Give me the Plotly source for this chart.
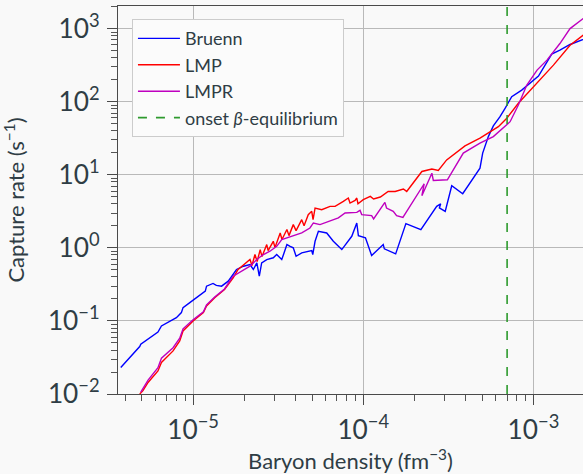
import plotly.graph_objects as go

# ---- data ----
bruenn_density = [3.76e-6, 4.86e-6, 4.93e-6, 6.22e-6, 6.52e-6, 7.63e-6, 7.98e-6, 8.54e-6, 8.73e-6, 9.57e-6,
                  1.07e-5, 1.18e-5, 1.20e-5, 1.31e-5, 1.37e-5, 1.47e-5, 1.61e-5, 1.80e-5, 1.98e-5, 2.16e-5,
                  2.26e-5, 2.37e-5, 2.45e-5, 2.53e-5, 2.71e-5, 2.96e-5, 3.10e-5, 3.32e-5, 3.40e-5, 3.56e-5,
                  3.72e-5, 3.88e-5, 4.03e-5, 4.35e-5, 4.98e-5, 5.05e-5, 5.21e-5, 5.45e-5, 6.10e-5, 6.67e-5,
                  7.48e-5, 8.56e-5, 9.16e-5, 9.36e-5, 1.03e-4, 1.12e-4, 1.31e-4, 1.33e-4, 1.55e-4, 1.78e-4,
                  2.18e-4, 2.70e-4, 2.85e-4, 2.80e-4, 3.03e-4, 3.31e-4, 3.84e-4, 4.85e-4, 5.03e-4, 5.43e-4,
                  5.81e-4, 6.36e-4, 6.81e-4, 7.45e-4, 8.53e-4, 9.77e-4, 1.07e-3, 1.28e-3, 1.43e-3, 1.64e-3,
                  1.96e-3, 2.2e-3]
bruenn_rate = [2.31e-2, 4.46e-2, 4.80e-2, 7.06e-2, 8.52e-2, 0.105, 0.111, 0.130, 0.152, 0.178,
               0.219, 0.256, 0.299, 0.326, 0.306, 0.299, 0.350, 0.506, 0.561, 0.592,
               0.506, 0.624, 0.410, 0.624, 0.692, 0.731, 0.811, 0.692, 0.811, 1.11,
               1.05, 1.00, 0.768, 0.855, 0.918, 0.811, 1.23, 1.68, 1.60, 1.23,
               0.948, 1.44, 2.19, 1.47, 1.37, 0.785, 1.11, 0.969, 0.828, 2.15,
               1.78, 3.70, 4.01, 3.52, 3.16, 7.08, 5.51, 12.3, 19.8, 33.3,
               46.6, 62.4, 81.3, 117, 144, 187, 224, 448, 507, 607,
               710, 790]

lmp_density = [4.86e-6, 5.08e-6, 5.44e-6, 6.22e-6, 6.52e-6, 7.63e-6, 8.35e-6, 8.73e-6, 1.0e-5, 1.15e-5,
               1.20e-5, 1.34e-5, 1.53e-5, 1.72e-5, 1.84e-5, 2.01e-5, 2.16e-5, 2.22e-5, 2.31e-5, 2.38e-5,
               2.48e-5, 2.54e-5, 2.71e-5, 2.76e-5, 2.96e-5, 3.03e-5, 3.25e-5, 3.33e-5, 3.56e-5, 3.66e-5,
               3.88e-5, 4.03e-5, 4.35e-5, 4.49e-5, 4.75e-5, 4.98e-5, 5.07e-5, 5.21e-5, 5.70e-5, 6.38e-5,
               6.83e-5, 7.64e-5, 8.17e-5, 8.36e-5, 8.95e-5, 9.16e-5, 9.31e-5, 1.00e-4, 1.10e-4, 1.15e-4,
               1.26e-4, 1.40e-4, 1.54e-4, 1.72e-4, 1.80e-4, 2.21e-4, 2.53e-4, 2.76e-4, 3.09e-4, 3.96e-4,
               4.85e-4, 6.22e-4, 6.97e-4, 8.15e-4, 1.0e-3, 1.31e-3, 1.64e-3, 1.96e-3, 2.2e-3]
lmp_rate = [1.0e-2, 1.11e-2, 1.44e-2, 2.07e-2, 2.70e-2, 3.89e-2, 5.32e-2, 7.28e-2, 9.97e-2, 0.130,
            0.160, 0.208, 0.270, 0.390, 0.506, 0.592, 0.692, 0.574, 0.811, 0.650,
            0.948, 0.760, 1.11, 0.918, 1.23, 1.01, 1.60, 1.30, 1.78, 1.47,
            2.08, 1.72, 2.43, 2.01, 2.85, 3.16, 2.43, 3.51, 3.33, 3.70,
            3.70, 4.32, 4.81, 4.11, 4.46, 4.81, 4.02, 4.56, 5.06, 4.66,
            4.96, 5.92, 5.92, 6.38, 5.92, 11.1, 12.0, 11.5, 16.0, 24.9,
            31.7, 45.6, 59.4, 95.1, 160, 317, 594, 813, 900]

lmpr_density = [4.93e-6, 5.08e-6, 5.44e-6, 6.22e-6, 6.52e-6, 7.63e-6, 8.35e-6, 8.73e-6, 1.0e-5, 1.15e-5,
                1.20e-5, 1.34e-5, 1.53e-5, 1.72e-5, 1.98e-5, 2.16e-5, 2.37e-5, 2.59e-5, 2.83e-5, 3.10e-5,
                3.32e-5, 3.56e-5, 3.97e-5, 4.35e-5, 4.86e-5, 5.09e-5, 5.57e-5, 6.38e-5, 7.14e-5, 7.82e-5,
                8.36e-5, 9.16e-5, 9.57e-5, 9.79e-5, 1.12e-4, 1.15e-4, 1.34e-4, 1.37e-4, 1.50e-4, 1.57e-4,
                1.71e-4, 2.21e-4, 2.28e-4, 2.21e-4, 2.53e-4, 2.58e-4, 3.12e-4, 3.87e-4, 4.85e-4, 5.81e-4,
                7.29e-4, 8.15e-4, 9.14e-4, 1.05e-3, 1.20e-3, 1.43e-3, 1.64e-3, 1.96e-3, 2.2e-3]
lmpr_rate = [1.06e-2, 1.20e-2, 1.55e-2, 2.29e-2, 3.09e-2, 4.30e-2, 5.79e-2, 7.80e-2, 0.104, 0.133,
             0.166, 0.213, 0.274, 0.410, 0.506, 0.561, 0.692, 0.811, 0.899, 1.05,
             1.30, 1.37, 1.52, 1.60, 1.87, 2.19, 2.08, 2.31, 2.57, 3.00,
             3.00, 3.06, 3.26, 2.85, 2.76, 2.49, 4.19, 3.51, 3.16, 2.76,
             2.61, 6.59, 7.54, 5.17, 10.5, 8.36, 8.55, 19.8, 27.1, 33.3,
             53.3, 90.2, 169, 271, 371, 626, 1002, 1374, 1600]

onset_density = 7.0e-4
y_limits = [1e-2, 2.05e3]

# tick labels: plotly prints 10^0 and 10^1 as "1" and "10"; alias them to powers of ten
y_label_alias = {"1": "10<sup>0</sup>", "10": "10<sup>1</sup>"}

X_RANGE_LOG = [-5.441, -2.709]
Y_RANGE_LOG = [-2.0, 3.31]

# minor tick positions (2..9 within each decade)
x_minor = [m * 10.0 ** e for e in range(-6, -2) for m in range(2, 10)]
y_minor = [m * 10.0 ** e for e in range(-2, 4) for m in range(2, 10)]

TEXT = "#2f3d45"
FONT = "Lato"
AXIS = "#4a4a4a"

fig = go.Figure()
fig.add_trace(go.Scatter(x=bruenn_density, y=bruenn_rate, mode="lines", name="Bruenn",
                         line=dict(color="#0000ff", width=1.4)))
fig.add_trace(go.Scatter(x=lmp_density, y=lmp_rate, mode="lines", name="LMP",
                         line=dict(color="#ff0000", width=1.4)))
fig.add_trace(go.Scatter(x=lmpr_density, y=lmpr_rate, mode="lines", name="LMPR",
                         line=dict(color="#bf00bf", width=1.4)))
fig.add_trace(go.Scatter(x=[onset_density, onset_density], y=y_limits, mode="lines",
                         name="onset <i>β</i>-equilibrium",
                         line=dict(color="#2e9a2e", width=1.6, dash="dash")))
# invisible carrier so the overlay (minor-tick) axes get drawn
fig.add_trace(go.Scatter(x=[onset_density], y=[1.0], mode="markers", xaxis="x2", yaxis="y2",
                         marker=dict(opacity=0), showlegend=False, hoverinfo="skip"))


def axis_style():
    return dict(
        type="log", showline=True, linecolor=AXIS, linewidth=1.3,
        showgrid=True, gridcolor="#b9b9b9", gridwidth=1,
        dtick=1, exponentformat="power",
        ticks="outside", ticklen=10, tickcolor=AXIS, tickwidth=1.3,
        ticklabelstandoff=3,
        tickfont=dict(family=FONT, size=21, color=TEXT), zeroline=False,
    )


def minor_style(vals):
    return dict(type="log", tickmode="array", tickvals=vals, ticks="outside", ticklen=6,
                tickcolor="#555555", tickwidth=1.2, showticklabels=False, showgrid=False,
                zeroline=False, showline=False)


fig.update_layout(
    width=583, height=474,
    margin=dict(l=118, r=0, t=6, b=80),
    paper_bgcolor="#f9f9f9", plot_bgcolor="#f9f9f9",
    font=dict(family=FONT, color=TEXT, size=18),
    xaxis=dict(axis_style(), range=X_RANGE_LOG, mirror=True,
               title=dict(text="Baryon density (fm<sup>−3</sup>)", font=dict(family=FONT, size=22, color=TEXT),
                          standoff=12)),
    yaxis=dict(axis_style(), range=Y_RANGE_LOG, labelalias=y_label_alias,
               title=dict(text="Capture rate (s<sup>−1</sup>)", font=dict(family=FONT, size=22, color=TEXT),
                          standoff=26)),
    xaxis2=dict(minor_style(x_minor), range=X_RANGE_LOG, overlaying="x", side="bottom", anchor="y2"),
    yaxis2=dict(minor_style(y_minor), range=Y_RANGE_LOG, overlaying="y", side="left", anchor="x2"),
    legend=dict(x=0.03, y=0.966, xanchor="left", yanchor="top",
                bgcolor="#fbfbfb", bordercolor="#cccccc", borderwidth=1,
                font=dict(family=FONT, size=18, color=TEXT),
                tracegroupgap=0, itemwidth=42),
    showlegend=True,
)

fig.write_html("out.html")
